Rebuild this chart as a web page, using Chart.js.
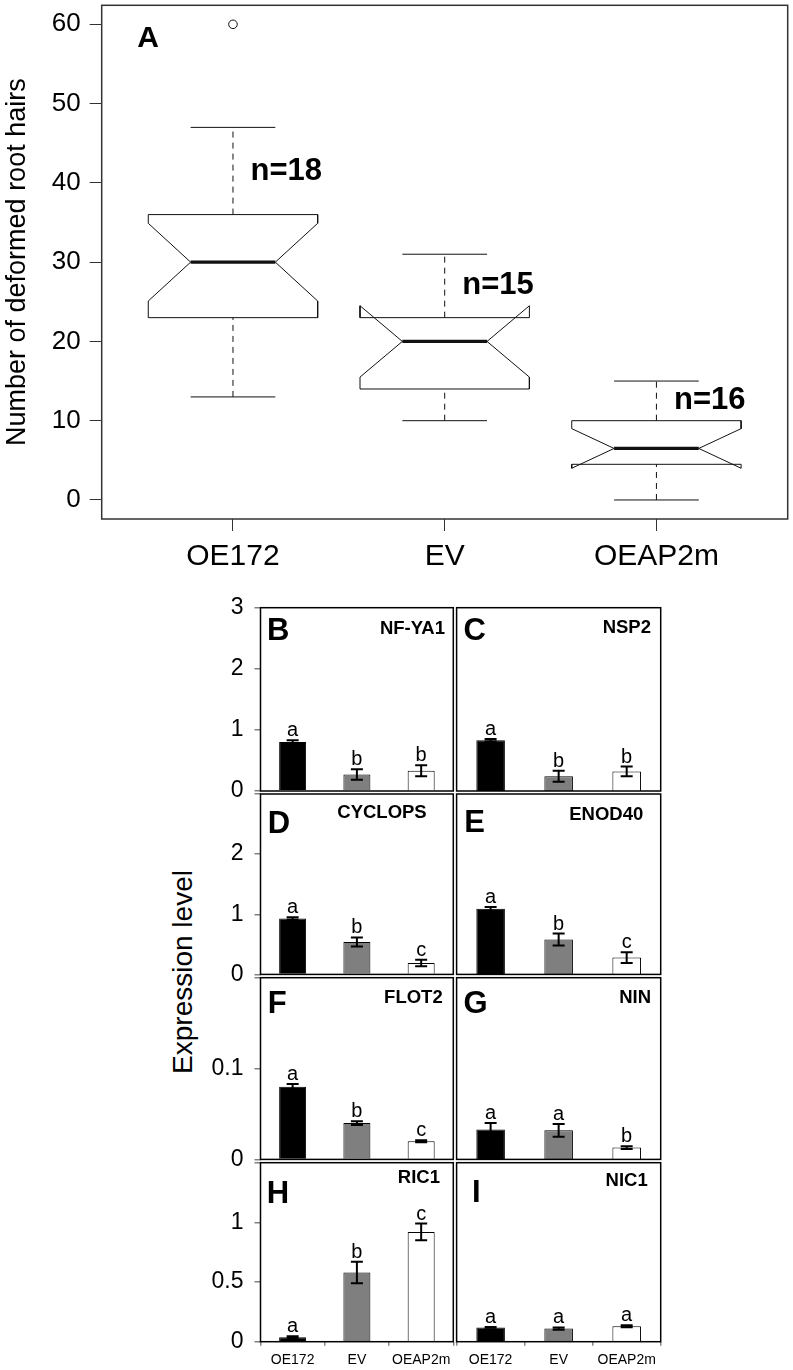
<!DOCTYPE html>
<html>
<head>
<meta charset="utf-8">
<title>Root hair deformation and expression levels</title>
<script src="https://cdn.jsdelivr.net/npm/chart.js@4.4.1/dist/chart.umd.min.js"></script>
<style>
  html, body { margin: 0; padding: 0; background: #fff; }
  #page { position: relative; width: 793px; height: 1370px; overflow: hidden; }
  #page canvas { position: absolute; }
  #exprLabel {
    position: absolute; left: 183px; top: 972px;
    transform: translate(-50%, -50%) rotate(-90deg);
    font: 28px 'Liberation Sans', Arial, sans-serif; line-height: 1;
    white-space: nowrap; color: #000;
  }
</style>
</head>
<body>
<div id="page">
  <canvas id="boxChart" width="793" height="584" style="left:0;top:0"></canvas>
  <div id="exprLabel">Expression level</div>
</div>
<script>
// ---------------------------------------------------------------------------
// Data
// ---------------------------------------------------------------------------
const FONT = "'Liberation Sans', Arial, Helvetica, sans-serif";

// Panel A: notched box plot
const boxCats = ['OE172', 'EV', 'OEAP2m'];
const boxMedian = [30, 20, 6.5];
const boxQ1 = [23, 14, 4.5];
const boxQ3 = [36, 23, 10];
const whiskerLo = [13, 10, 0];
const whiskerHi = [47, 31, 15];
const notchLo = [25.1, 15.5, 4.0];
const notchHi = [34.9, 24.5, 9.0];
const outlierCat = [1];
const outlierVal = [60];
const sampleN = [18, 15, 16];
const boxYTicks = [0, 10, 20, 30, 40, 50, 60];
const boxYTitle = 'Number of deformed root hairs';

// Panels B-I: expression bars
const barCats = ['OE172', 'EV', 'OEAP2m'];
const panelLetters = ['B', 'C', 'D', 'E', 'F', 'G', 'H', 'I'];
const geneNames = ['NF-YA1', 'NSP2', 'CYCLOPS', 'ENOD40', 'FLOT2', 'NIN', 'RIC1', 'NIC1'];
const exprMean = [
    [0.80, 0.27, 0.33],
    [0.83, 0.24, 0.32],
    [0.93, 0.54, 0.19],
    [1.09, 0.58, 0.28],
    [0.080, 0.040, 0.020],
    [0.033, 0.032, 0.013],
    [0.037, 0.58, 0.92],
    [0.12, 0.11, 0.13],
];
const exprErr = [
    [0.03, 0.085, 0.09],
    [0.02, 0.09, 0.08],
    [0.02, 0.075, 0.055],
    [0.03, 0.10, 0.09],
    [0.003, 0.002, 0.001],
    [0.007, 0.007, 0.0015],
    [0.008, 0.09, 0.07],
    [0.004, 0.01, 0.008],
];
const sigLetters = [
    ['a', 'b', 'b'], ['a', 'b', 'b'],
    ['a', 'b', 'c'], ['a', 'b', 'c'],
    ['a', 'b', 'c'], ['a', 'a', 'b'],
    ['a', 'b', 'c'], ['a', 'a', 'a'],
];
const rowMax = [3, 3, 0.2, 1.5];
const rowTicks = [[0, 1, 2, 3], [0, 1, 2, 3], [0, 0.1, 0.2], [0, 0.5, 1, 1.5]];

// ---------------------------------------------------------------------------
// Layout / style
// ---------------------------------------------------------------------------
const BOX_HALF = 0.4, NOTCH_HALF = 0.2, STAPLE_HALF = 0.2;
const barFills = ['#000000', '#7f7f7f', '#ffffff'];
const colX = [[260.5, 453.3], [453.3, 660.7]];
const rowY = [[607.7, 794], [794, 977.7], [977.7, 1162.7], [1162.7, 1341.7]];
const letterDx = [6.5, 7, 7.2, 7.7, 7.2, 7, 6.2, 15.3];      // panel letter, from panel left
const letterDy = [32.3, 32.3, 39, 38, 35.6, 35.6, 40.6, 39];  // baseline, from panel top
const nameInset = [8.3, 9.7, 26.6, 17.4, 10.6, 9.7, 13.3, 13];
const nameDy = [26.3, 25, 24.3, 26, 25.6, 25.6, 20.6, 23.3];

function zeroPad(s) { s.paddingTop = 0; s.paddingBottom = 0; s.paddingLeft = 0; s.paddingRight = 0; }

function framePlugin(color, width) {
    return {
        id: 'frame',
        afterDraw(chart) {
            const { ctx, chartArea: a } = chart;
            ctx.save();
            ctx.strokeStyle = color;
            ctx.lineWidth = width;
            ctx.strokeRect(a.left, a.top, a.right - a.left, a.bottom - a.top);
            ctx.restore();
        }
    };
}

// ---------------------------------------------------------------------------
// Panel A
// ---------------------------------------------------------------------------
function seg(points, width, dash) {
    return {
        data: points.map(([x, y]) => ({ x, y })),
        showLine: true,
        borderColor: '#111',
        borderWidth: width,
        borderDash: dash || [],
        borderCapStyle: 'butt',
        pointRadius: 0,
        fill: false,
        tension: 0,
    };
}

const boxDatasets = [];
boxCats.forEach((c, i) => {
    const x = i + 1;
    const xl = x - BOX_HALF, xr = x + BOX_HALF, nl = x - NOTCH_HALF, nr = x + NOTCH_HALF;
    boxDatasets.push(seg([
        [xl, boxQ1[i]], [xl, notchLo[i]], [nl, boxMedian[i]], [xl, notchHi[i]], [xl, boxQ3[i]],
        [xr, boxQ3[i]], [xr, notchHi[i]], [nr, boxMedian[i]], [xr, notchLo[i]], [xr, boxQ1[i]],
        [xl, boxQ1[i]]
    ], 1));
    boxDatasets.push(seg([[nl, boxMedian[i]], [nr, boxMedian[i]]], 3.2));
    boxDatasets.push(seg([[x, boxQ3[i]], [x, whiskerHi[i]]], 1, [6, 5]));
    boxDatasets.push(seg([[x, whiskerLo[i]], [x, boxQ1[i]]], 1, [6, 5]));
    boxDatasets.push(seg([[x - STAPLE_HALF, whiskerHi[i]], [x + STAPLE_HALF, whiskerHi[i]]], 1));
    boxDatasets.push(seg([[x - STAPLE_HALF, whiskerLo[i]], [x + STAPLE_HALF, whiskerLo[i]]], 1));
});
boxDatasets.push({
    data: outlierCat.map((c, i) => ({ x: c, y: outlierVal[i] })),
    showLine: false,
    pointStyle: 'circle',
    pointRadius: 4.3,
    borderColor: '#111',
    backgroundColor: '#fff',
    borderWidth: 1,
});

const boxNotes = {
    id: 'boxNotes',
    afterDatasetsDraw(chart) {
        const { ctx, chartArea: a, scales: { x, y } } = chart;
        ctx.save();
        ctx.fillStyle = '#000';
        ctx.font = `bold 30px ${FONT}`;
        ctx.textBaseline = 'alphabetic';
        ctx.fillText('A', a.left + 35.5, a.top + 42);
        ctx.font = `bold 31px ${FONT}`;
        ctx.textBaseline = 'middle';
        sampleN.forEach((n, i) => {
            const px = x.getPixelForValue(i + 1 + 0.083);
            const py = y.getPixelForValue((boxQ3[i] + whiskerHi[i]) / 2);
            ctx.fillText('n=' + n, px, py);
        });
        // y-axis title, centred on the plot
        ctx.font = `27px ${FONT}`;
        ctx.textAlign = 'center';
        ctx.textBaseline = 'alphabetic';
        ctx.translate(25, (a.top + a.bottom) / 2);
        ctx.rotate(-Math.PI / 2);
        ctx.fillText(boxYTitle, 0, 0);
        ctx.restore();
    }
};

new Chart(document.getElementById('boxChart'), {
    type: 'scatter',
    data: { datasets: boxDatasets },
    options: {
        responsive: false,
        animation: false,
        events: [],
        layout: { padding: { top: 3, right: 3.7, left: 0, bottom: 0 } },
        plugins: { legend: { display: false }, tooltip: { enabled: false } },
        scales: {
            x: {
                type: 'linear', min: 0.38, max: 3.62,
                afterBuildTicks: s => { s.ticks = boxCats.map((c, i) => ({ value: i + 1 })); },
                ticks: { callback: v => boxCats[v - 1], font: { family: FONT, size: 30 }, color: '#000', padding: 7.5, maxRotation: 0, autoSkip: false },
                grid: { drawOnChartArea: false, tickLength: 12, color: '#333', lineWidth: 1 },
                border: { display: false },
                afterFit: s => { s.height = 65; zeroPad(s); },
            },
            y: {
                min: -2.4, max: 62.4,
                afterBuildTicks: s => { s.ticks = boxYTicks.map(v => ({ value: v })); },
                ticks: { font: { family: FONT, size: 26 }, color: '#000', padding: 9 },
                grid: { drawOnChartArea: false, tickLength: 12, color: '#333', lineWidth: 1 },
                border: { display: false },
                afterFit: s => { s.width = 101.7; zeroPad(s); },
            },
        },
    },
    plugins: [framePlugin('#333', 1.5), boxNotes],
});

// ---------------------------------------------------------------------------
// Panels B-I
// ---------------------------------------------------------------------------
function panelBox(col, row) {
    const [x0, x1] = colX[col], [y0, y1] = rowY[row];
    const l = col === 0 ? 70 : 3, r = 4, t = 16, b = row === 3 ? 28 : 3;
    const cx = Math.floor(x0 - l), cy = Math.floor(y0 - t);
    const cw = Math.ceil(x1 + r - cx), ch = Math.ceil(y1 + b - cy);
    return { cx, cy, cw, ch, padL: x0 - cx, padR: cx + cw - x1, padT: y0 - cy, padB: cy + ch - y1 };
}

function barNotes(p) {
    return {
        id: 'barNotes',
        afterDatasetsDraw(chart) {
            const { ctx, chartArea: a, scales: { y } } = chart;
            const meta = chart.getDatasetMeta(0);
            ctx.save();
            ctx.strokeStyle = '#000';
            ctx.fillStyle = '#000';
            ctx.lineWidth = 2;
            ctx.font = `20px ${FONT}`;
            ctx.textAlign = 'center';
            ctx.textBaseline = 'alphabetic';
            meta.data.forEach((bar, i) => {
                const v = exprMean[p][i], e = exprErr[p][i];
                const top = y.getPixelForValue(v + e), bot = y.getPixelForValue(v - e);
                ctx.beginPath();
                ctx.moveTo(bar.x, top); ctx.lineTo(bar.x, bot);
                ctx.moveTo(bar.x - 6, top); ctx.lineTo(bar.x + 6, top);
                ctx.moveTo(bar.x - 6, bot); ctx.lineTo(bar.x + 6, bot);
                ctx.stroke();
                ctx.fillText(sigLetters[p][i], bar.x, top - 4);
            });
            ctx.textAlign = 'left';
            ctx.font = `bold 31px ${FONT}`;
            ctx.fillText(panelLetters[p], a.left + letterDx[p], a.top + letterDy[p]);
            ctx.textAlign = 'right';
            ctx.font = `bold 18.5px ${FONT}`;
            ctx.fillText(geneNames[p], a.right - nameInset[p], a.top + nameDy[p]);
            ctx.restore();
        }
    };
}

const page = document.getElementById('page');
geneNames.forEach((g, p) => {
    const col = p % 2, row = Math.floor(p / 2);
    const box = panelBox(col, row);
    const cv = document.createElement('canvas');
    cv.width = box.cw; cv.height = box.ch;
    cv.style.left = box.cx + 'px'; cv.style.top = box.cy + 'px';
    page.appendChild(cv);

    const showY = col === 0, showX = row === 3;
    const ticks = rowTicks[row];
    new Chart(cv, {
        type: 'bar',
        data: {
            labels: barCats,
            datasets: [{
                data: exprMean[p],
                backgroundColor: barFills,
                borderColor: '#000',
                borderWidth: 1,
                barPercentage: 0.42,
                categoryPercentage: 1,
            }],
        },
        options: {
            responsive: false,
            animation: false,
            events: [],
            layout: { padding: { top: box.padT, right: box.padR, left: showY ? 0 : box.padL, bottom: showX ? 0 : box.padB } },
            plugins: { legend: { display: false }, tooltip: { enabled: false } },
            scales: {
                x: {
                    display: showX,
                    grid: { drawOnChartArea: false, tickLength: 4, color: '#888', lineWidth: 1.5, offset: true },
                    border: { display: false },
                    ticks: { font: { family: FONT, size: 14 }, color: '#000', padding: 6, maxRotation: 0, minRotation: 0, autoSkip: false },
                    afterFit: s => { s.height = box.padB; zeroPad(s); },
                },
                y: {
                    display: showY,
                    min: 0, max: rowMax[row],
                    afterBuildTicks: s => { s.ticks = ticks.map(v => ({ value: v })); },
                    ticks: {
                        callback: (v, i) => (row > 0 && i === ticks.length - 1) ? '' : String(v),
                        font: { family: FONT, size: 23 }, color: '#000', padding: 11,
                    },
                    grid: { drawOnChartArea: false, tickLength: 6, color: '#808080', lineWidth: 1.5 },
                    border: { display: false },
                    afterFit: s => { s.width = box.padL; zeroPad(s); },
                },
            },
        },
        plugins: [framePlugin('#000', 1.5), barNotes(p)],
    });
});
</script>
</body>
</html>
